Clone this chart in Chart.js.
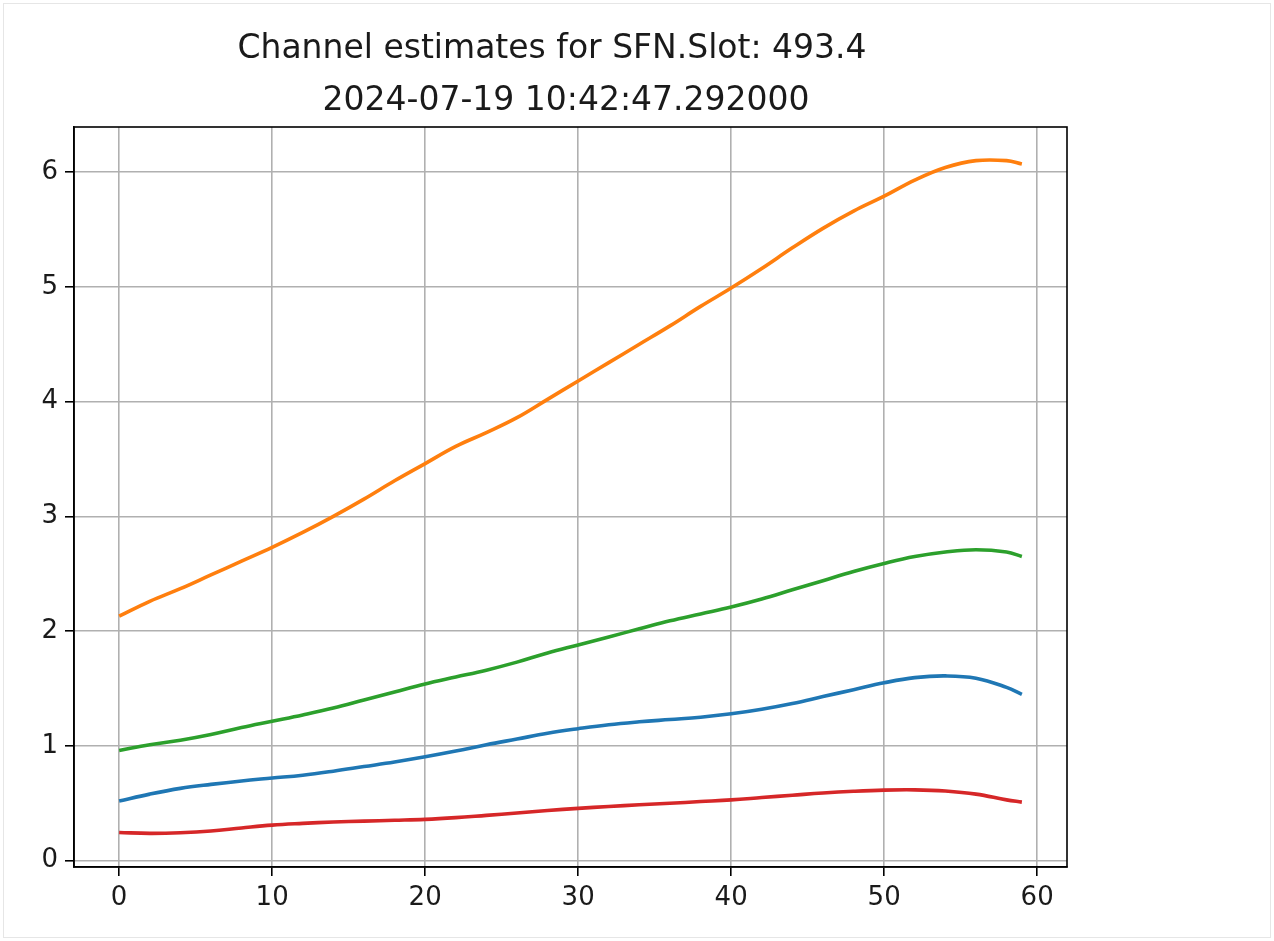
<!DOCTYPE html>
<html>
<head>
<meta charset="utf-8">
<script src="https://cdn.jsdelivr.net/npm/chart.js@4"></script>
<style>
  html, body { margin: 0; padding: 0; background: #fff; }
  #wrap { position: absolute; left: 3px; top: 3px; width: 1266px; height: 933px; border: 1px solid #e6e6e6; }
  canvas { position: absolute; left: 0; top: 0; }
</style>
</head>
<body>
<div id="wrap"></div>
<canvas id="myChart" width="1274" height="941"></canvas>
<script>
// subcarrier index (sampled) and channel estimate magnitudes per series
const scIndex = [0, 2, 4, 6, 8, 10, 12, 14, 16, 18, 20, 22, 24, 26, 28, 30,
                 32, 34, 36, 38, 40, 42, 44, 46, 48, 50, 52, 54, 56, 58, 59];
const chBlue = [0.52, 0.58, 0.63, 0.665, 0.695, 0.72, 0.745, 0.78, 0.82, 0.86, 0.905, 0.955, 1.01, 1.06, 1.11, 1.15,
                1.185, 1.21, 1.23, 1.25, 1.28, 1.32, 1.37, 1.43, 1.49, 1.55, 1.595, 1.61, 1.59, 1.51, 1.45];
const chOrange = [2.13, 2.26, 2.37, 2.49, 2.61, 2.73, 2.86, 3.00, 3.15, 3.31, 3.46, 3.61, 3.73, 3.86, 4.02, 4.18,
                  4.34, 4.50, 4.66, 4.83, 4.99, 5.16, 5.34, 5.51, 5.66, 5.79, 5.93, 6.04, 6.10, 6.10, 6.07];
const chGreen = [0.96, 1.01, 1.05, 1.10, 1.16, 1.215, 1.27, 1.33, 1.40, 1.47, 1.54, 1.60, 1.66, 1.73, 1.81, 1.88,
                 1.95, 2.02, 2.09, 2.15, 2.21, 2.28, 2.36, 2.44, 2.52, 2.59, 2.65, 2.69, 2.71, 2.69, 2.65];
const chRed = [0.245, 0.238, 0.243, 0.258, 0.285, 0.31, 0.325, 0.337, 0.345, 0.352, 0.36, 0.375, 0.395, 0.415, 0.437, 0.456,
               0.472, 0.487, 0.50, 0.515, 0.53, 0.55, 0.57, 0.59, 0.605, 0.615, 0.617, 0.607, 0.58, 0.53, 0.51];
const xTicks = [0, 10, 20, 30, 40, 50, 60];
const yTicks = [0, 1, 2, 3, 4, 5, 6];
const titleLines = ['Channel estimates for SFN.Slot: 493.4', '2024-07-19 10:42:47.292000'];

const FONT = '"DejaVu Sans", sans-serif';
const TEXT_COLOR = '#1a1a1a';

function toPoints(vals){
    return vals.map((v, i) => ({x: scIndex[i], y: v}));
}

// 5% margins on both axes
const allVals = chBlue.concat(chOrange, chGreen, chRed);
const yLo = Math.min(...allVals), yHi = Math.max(...allVals);
const yPad = (yHi - yLo) * 0.05;
const xLo = scIndex[0], xHi = scIndex[scIndex.length - 1];
const xPad = (xHi - xLo) * 0.05;

function series(vals, color){
    return {
        data: toPoints(vals),
        borderColor: color,
        backgroundColor: color,
        borderWidth: 3.6,
        pointRadius: 0,
        tension: 0.4,
        borderCapStyle: 'butt',
        fill: false,
    };
}

// top/right spines and the two-line title
const framePlugin = {
    id: 'frame',
    afterDraw(chart){
        const {ctx, chartArea: a} = chart;
        ctx.save();
        ctx.strokeStyle = '#000';
        ctx.lineWidth = 1.6;
        ctx.strokeRect(a.left, a.top, a.right - a.left, a.bottom - a.top);
        ctx.fillStyle = TEXT_COLOR;
        ctx.font = '33px ' + FONT;
        ctx.textAlign = 'center';
        ctx.textBaseline = 'alphabetic';
        ctx.fillText(titleLines[0], 552, 58);
        ctx.fillText(titleLines[1], 566, 110);
        ctx.restore();
    }
};

const config = {
    type: 'line',
    data: {
        datasets: [
            series(chBlue, '#1f77b4'),
            series(chOrange, '#ff7f0e'),
            series(chGreen, '#2ca02c'),
            series(chRed, '#d62728')
        ]
    },
    options: {
        responsive: false,
        animation: false,
        layout: { padding: { left: 0, top: 127, right: 207, bottom: 0 } },
        plugins: { legend: { display: false }, tooltip: { enabled: false } },
        scales: {
            x: {
                type: 'linear',
                min: xLo - xPad,
                max: xHi + xPad,
                afterBuildTicks: (scale) => { scale.ticks = xTicks.map(v => ({value: v})); },
                afterFit: (scale) => { scale.height = 74; },
                grid: { color: '#b0b0b0', lineWidth: 1.6, tickColor: '#000', tickLength: 9, tickWidth: 1.6 },
                border: { display: true, color: '#000', width: 1.6 },
                ticks: { color: TEXT_COLOR, font: { family: FONT, size: 26 }, padding: 7, maxRotation: 0 }
            },
            y: {
                type: 'linear',
                min: yLo - yPad,
                max: yHi + yPad,
                afterBuildTicks: (scale) => { scale.ticks = yTicks.map(v => ({value: v})); },
                afterFit: (scale) => { scale.width = 74; },
                grid: { color: '#b0b0b0', lineWidth: 1.6, tickColor: '#000', tickLength: 9, tickWidth: 1.6 },
                border: { display: true, color: '#000', width: 1.6 },
                ticks: { color: TEXT_COLOR, font: { family: FONT, size: 26 }, padding: 7 }
            }
        }
    },
    plugins: [framePlugin]
};

const myChart = new Chart(document.getElementById('myChart'), config);
</script>
</body>
</html>
